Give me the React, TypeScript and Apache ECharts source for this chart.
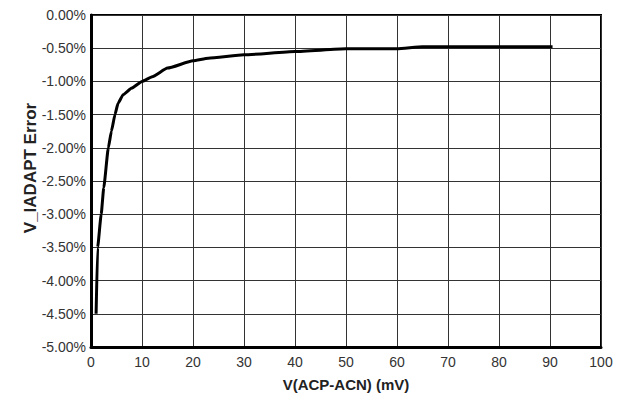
import React, { useEffect, useRef } from "react";
import * as echarts from "echarts";

const xValues = [1, 1.3, 2, 2.5, 3.4, 4, 4.7, 5.3, 6.3, 8, 10, 12, 15, 20, 23, 30, 40, 50, 60, 65, 90.5];
const errorValues = [-4.5, -3.5, -3.0, -2.6, -2.0, -1.75, -1.5, -1.33, -1.2, -1.1, -1.0, -0.93, -0.8, -0.69, -0.65, -0.6, -0.55, -0.51, -0.51, -0.48, -0.48];
const xTitle = "V(ACP-ACN) (mV)";
const yTitle = "V_IADAPT Error";

export default function App() {
  const ref = useRef<HTMLDivElement>(null);
  useEffect(() => {
    if (!ref.current) return;
    const chart = echarts.init(ref.current, undefined, { renderer: "svg" });
    const data = xValues.map((x, i) => [x, errorValues[i]]);
    chart.setOption({
      animation: false,
      backgroundColor: "#fff",
      grid: { left: 91, right: 23, top: 15, bottom: 58, show: true, borderColor: "#000", borderWidth: 2 },
      xAxis: {
        type: "value",
        min: 0,
        max: 100,
        interval: 10,
        name: xTitle,
        nameLocation: "middle",
        nameGap: 30,
        nameTextStyle: { fontFamily: "Liberation Sans", fontWeight: "bold", fontSize: 15, color: "#222" },
        axisLine: { show: true, onZero: false, lineStyle: { color: "#000", width: 3 } },
        axisTick: { show: false },
        axisLabel: { fontFamily: "Liberation Sans", fontSize: 14, color: "#333", margin: 8 },
        splitLine: { show: true, lineStyle: { color: "#333", width: 1 } },
      },
      yAxis: {
        type: "value",
        min: -5,
        max: 0,
        interval: 0.5,
        axisLine: { show: true, onZero: false, lineStyle: { color: "#000", width: 3 } },
        axisTick: { show: false },
        axisLabel: {
          fontFamily: "Liberation Sans",
          fontSize: 14,
          color: "#333",
          margin: 5,
          formatter: (v: number) => v.toFixed(2) + "%",
        },
        splitLine: { show: true, lineStyle: { color: "#333", width: 1 } },
      },
      graphic: [
        {
          type: "text",
          x: 30,
          y: 168,
          rotation: Math.PI / 2,
          style: {
            text: yTitle,
            fontFamily: "Liberation Sans",
            fontWeight: "bold",
            fontSize: 17,
            fill: "#222",
            align: "center",
            verticalAlign: "middle",
          },
        },
      ],
      series: [
        {
          type: "line",
          data,
          showSymbol: false,
          smooth: 0.15,
          smoothMonotone: "x",
          lineStyle: { color: "#000", width: 3 },
        },
      ],
    });
    return () => chart.dispose();
  }, []);
  return <div ref={ref} style={{ width: 624, height: 405, margin: -8 }} />;
}
